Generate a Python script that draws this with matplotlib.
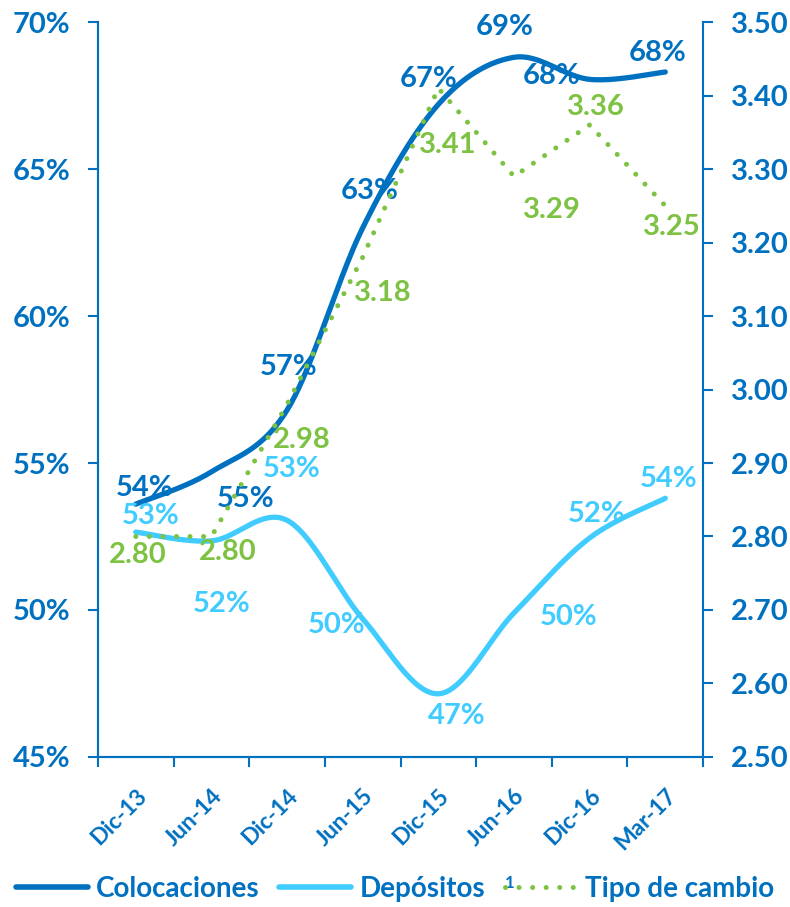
import numpy as np
import matplotlib
matplotlib.use("Agg")
import matplotlib.pyplot as plt
from matplotlib.lines import Line2D

plt.rcParams["font.family"] = ["Lato", "DejaVu Sans"]
plt.rcParams["font.weight"] = "bold"

# data
periods = ["Dic-13", "Jun-14", "Dic-14", "Jun-15", "Dic-15", "Jun-16", "Dic-16", "Mar-17"]
colocaciones = [53.6, 54.7, 56.8, 63.0, 67.2, 68.8, 68.05, 68.3]
colocaciones_lbl = ["54%", "55%", "57%", "63%", "67%", "69%", "68%", "68%"]
depositos = [52.65, 52.35, 53.05, 49.7, 47.15, 49.9, 52.45, 53.8]
depositos_lbl = ["53%", "52%", "53%", "50%", "47%", "50%", "52%", "54%"]
tipo_cambio = [2.80, 2.80, 2.98, 3.18, 3.41, 3.29, 3.36, 3.25]

DARK = "#0070C0"
LIGHT = "#40CCFF"
GREEN = "#7DC242"

# label offsets in pixels (dx, dy)
off_col = [(9, 16), (34, -27), (2, 43), (7, 37), (-10, 25), (-9, 30), (-38, 3), (-8, 19)]
off_dep = [(15, 16), (10, -63), (5, 51), (-26, -6), (18, -22), (55, -4), (7, 24), (3, 19)]
off_tc = [(2, -19), (16, -16), (15, -36), (20, -36), (9, -57), (38, -34), (6, 18), (7, -21)]


def smooth(xs, ys, n=40):
    # catmull-rom style bezier like excel smoothed lines
    p = np.column_stack([xs, ys]).astype(float)
    pts = np.vstack([p[0], p, p[-1]])
    out = []
    for i in range(1, len(pts) - 2):
        p0, p1, p2, p3 = pts[i - 1], pts[i], pts[i + 1], pts[i + 2]
        c1 = p1 + (p2 - p0) / 6
        c2 = p2 - (p3 - p1) / 6
        t = np.linspace(0, 1, n)[:, None]
        seg = (1 - t) ** 3 * p1 + 3 * (1 - t) ** 2 * t * c1 + 3 * (1 - t) * t ** 2 * c2 + t ** 3 * p2
        out.append(seg if i == 1 else seg[1:])
    out = np.vstack(out)
    return out[:, 0], out[:, 1]


x = np.arange(1, len(periods) + 1)
LBL = 21

fig = plt.figure(figsize=(7.9, 9.07), dpi=100)
ax = fig.add_axes([0.124, 0.1654, 0.766, 0.8103])
ax2 = ax.twinx()

sx, sy = smooth(x, colocaciones)
ax.plot(sx, sy, color=DARK, lw=3.8, solid_capstyle="round")
sx, sy = smooth(x, depositos)
ax.plot(sx, sy, color=LIGHT, lw=3.8, solid_capstyle="round")
dots = (0, (0.01, 2.7))
ax2.plot(x, tipo_cambio, color=GREEN, lw=3.6, linestyle=dots, dash_capstyle="round")

for xi, v, lbl, (dx, dy) in zip(x, colocaciones, colocaciones_lbl, off_col):
    ax.annotate(lbl, (xi, v), xytext=(dx, dy), textcoords="offset pixels",
                ha="center", va="center", color=DARK, fontsize=LBL, fontweight="bold")
for xi, v, lbl, (dx, dy) in zip(x, depositos, depositos_lbl, off_dep):
    ax.annotate(lbl, (xi, v), xytext=(dx, dy), textcoords="offset pixels",
                ha="center", va="center", color=LIGHT, fontsize=LBL, fontweight="bold")
for xi, v, (dx, dy) in zip(x, tipo_cambio, off_tc):
    ax2.annotate(f"{v:.2f}", (xi, v), xytext=(dx, dy), textcoords="offset pixels",
                 ha="center", va="center", color=GREEN, fontsize=LBL, fontweight="bold")

ax.set_xlim(0.5, len(periods) + 0.5)
ax.set_ylim(45, 70)
ax2.set_ylim(2.5, 3.5)
ax.set_yticks(np.arange(45, 71, 5))
ax.set_yticklabels([f"{v}%" for v in range(45, 71, 5)])
ax2.set_yticks(np.arange(2.5, 3.51, 0.1))
ax2.set_yticklabels([f"{v:.2f}" for v in np.arange(2.5, 3.51, 0.1)])

ax.set_xticks(np.arange(0.5, len(periods) + 1, 1))
ax.set_xticklabels([])
ax.set_xticks(x, minor=True)
ax.set_xticklabels(periods, minor=True, rotation=45, ha="right", rotation_mode="anchor",
                   fontsize=16.5, fontweight="bold", color=DARK)
ax.tick_params(axis="x", which="minor", length=0, pad=20)
ax.tick_params(axis="x", which="major", length=7, width=1.5, color=DARK, direction="out")

ax.tick_params(axis="y", length=7, width=1.5, color=DARK, labelcolor=DARK, labelsize=LBL, pad=13)
ax2.tick_params(axis="y", length=7, width=1.5, color=DARK, labelcolor=DARK, labelsize=LBL, pad=13)

for a in (ax, ax2):
    a.spines["top"].set_visible(False)
    for s in ("left", "right", "bottom"):
        a.spines[s].set_color(DARK)
        a.spines[s].set_linewidth(1.5)
ax.spines["right"].set_visible(False)

handles = [
    Line2D([], [], color=DARK, lw=4, solid_capstyle="round"),
    Line2D([], [], color=LIGHT, lw=4, solid_capstyle="round"),
    Line2D([], [], color=GREEN, lw=3.6, linestyle=dots, dash_capstyle="round"),
]
leg = fig.legend(handles, ["Colocaciones", "Depósitos", "Tipo de cambio"], loc="lower center",
                 bbox_to_anchor=(0.5, -0.022), ncol=3, frameon=False, handlelength=2.6,
                 handletextpad=0.3, columnspacing=0.7, prop={"size": 20, "weight": "bold"})
for t in leg.get_texts():
    t.set_color(DARK)
fig.text(0.645, 0.027, "1", color=DARK, fontsize=12, fontweight="bold", ha="center", va="center")

fig.savefig("out.png", dpi=100)
